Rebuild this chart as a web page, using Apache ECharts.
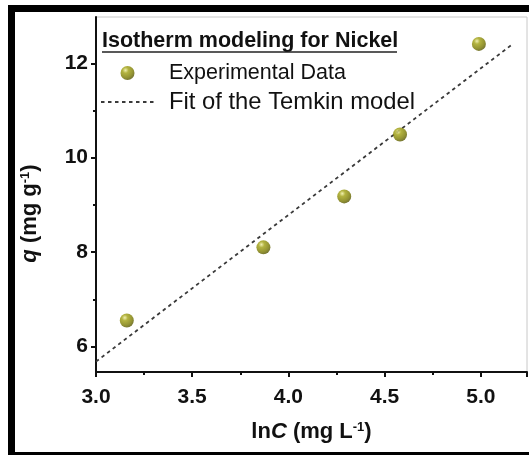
<!DOCTYPE html>
<html>
<head>
<meta charset="utf-8">
<script src="https://cdn.jsdelivr.net/npm/echarts@6/dist/echarts.min.js"></script>
<style>
html,body{margin:0;padding:0;background:#fff;}
#c{width:529px;height:455px;}
</style>
</head>
<body>
<div id="c"></div>
<script>
// Experimental data (lnC, q)
var lnC = [3.16, 3.87, 4.29, 4.58, 4.99];
var qExp = [6.55, 8.10, 9.18, 10.49, 12.41];
// Temkin fit line endpoints
var fitX = [3.0, 5.16];
var fitY = [5.68, 12.39];
// tick labels
var xTicks = [3.0, 3.5, 4.0, 4.5, 5.0];
var yTicks = [6, 8, 10, 12];
var yMinorTicks = [7, 9, 11];

var FF = '"Liberation Sans", Arial, Helvetica, sans-serif';
var chart = echarts.init(document.getElementById('c'), null, {renderer: 'canvas'});

var expData = lnC.map(function (x, i) { return [x, qExp[i]]; });
var fitData = fitX.map(function (x, i) { return [x, fitY[i]]; });

var ball = new echarts.graphic.RadialGradient(0.36, 0.3, 0.75, [
  {offset: 0, color: '#ecec9c'},
  {offset: 0.28, color: '#a0a010'},
  {offset: 0.7, color: '#7a7a00'},
  {offset: 1, color: '#505000'}
]);

var titleRich = {
  i: {fontSize: 22, fontWeight: 'bold', fontStyle: 'italic', fontFamily: FF, color: '#111'},
  n: {fontSize: 22, fontWeight: 'bold', fontFamily: FF, color: '#111'},
  s: {fontSize: 13, fontWeight: 'bold', fontFamily: FF, color: '#111', verticalAlign: 'top'}
};

var option = {
  animation: false,
  backgroundColor: '#fff',
  grid: {left: 96, top: 17, right: 2, bottom: 83, show: true, borderColor: '#c8c8c8', borderWidth: 1},
  xAxis: {
    type: 'value', min: 3.0, max: 5.24, interval: 0.5,
    axisLine: {show: true, lineStyle: {color: '#111', width: 2}},
    axisTick: {show: true, inside: false, length: 5, lineStyle: {color: '#111', width: 2}},
    minorTick: {show: true, splitNumber: 2, length: 3, lineStyle: {color: '#111', width: 2}},
    splitLine: {show: false},
    axisLabel: {
      margin: 15, fontSize: 21, fontWeight: 'bold', color: '#111', fontFamily: FF,
      customValues: xTicks,
      formatter: function (v) { return v.toFixed(1); }
    },
    name: '{n|ln}{i|C}{n| (mg L}{s|-1}{n|)}',
    nameLocation: 'middle', nameGap: 49,
    nameTextStyle: {fontSize: 22, fontWeight: 'bold', color: '#111', fontFamily: FF, rich: titleRich}
  },
  yAxis: [{
    type: 'value', min: 5.46, max: 12.98, position: 'left',
    axisLine: {show: true, lineStyle: {color: '#111', width: 2}},
    axisTick: {show: true, inside: false, length: 5, customValues: yTicks, lineStyle: {color: '#111', width: 2}},
    splitLine: {show: false},
    axisLabel: {
      margin: 8, fontSize: 21, fontWeight: 'bold', color: '#111', fontFamily: FF,
      customValues: yTicks
    },
    name: '{i|q}{n| (mg g}{s|-1}{n|)}',
    nameLocation: 'middle', nameGap: 55, nameRotate: 90,
    nameTextStyle: {
      fontSize: 22, fontWeight: 'bold', color: '#111', fontFamily: FF,
      padding: [0, 38, 0, 0],
      rich: titleRich
    }
  }, {
    type: 'value', min: 5.46, max: 12.98, position: 'left', offset: 0,
    axisLine: {show: false},
    axisTick: {show: true, inside: false, length: 3, customValues: yMinorTicks, lineStyle: {color: '#111', width: 2}},
    axisLabel: {show: false, customValues: yMinorTicks},
    splitLine: {show: false}
  }],
  legend: {
    orient: 'vertical', left: 100, top: 62, padding: 0,
    itemWidth: 53, itemHeight: 14, itemGap: 6,
    textStyle: {
      fontSize: 21, color: '#111', fontFamily: FF, lineHeight: 22, padding: [0, 0, 0, 10],
      rich: {
        a: {fontSize: 21.5, color: '#111', fontFamily: FF, lineHeight: 22},
        b: {fontSize: 23.8, color: '#111', fontFamily: FF, lineHeight: 22}
      }
    },
    formatter: function (name) {
      return name === 'Experimental Data' ? '{a|' + name + '}' : '{b|' + name + '}';
    },
    data: [
      {name: 'Experimental Data'},
      {name: 'Fit of the Temkin model', itemStyle: {opacity: 0, color: 'rgba(0,0,0,0)', borderWidth: 0}}
    ]
  },
  graphic: [
    {type: 'text', x: 102, y: 41, z: 10, style: {text: 'Isotherm modeling for Nickel', fontSize: 21.5, fontWeight: 'bold', fontFamily: FF, fill: '#111', align: 'left', verticalAlign: 'middle'}},
    {type: 'line', z: 10, shape: {x1: 102, y1: 52, x2: 397, y2: 52}, style: {stroke: '#222', lineWidth: 1.5}},
    {type: 'rect', z: 20, shape: {x: 8, y: 5, width: 521, height: 7}, style: {fill: '#000'}},
    {type: 'rect', z: 20, shape: {x: 8, y: 5, width: 7, height: 450}, style: {fill: '#000'}},
    {type: 'rect', z: 20, shape: {x: 8, y: 452, width: 521, height: 3}, style: {fill: '#000'}}
  ],
  series: [{
    name: 'Fit of the Temkin model', type: 'line', data: fitData,
    symbol: 'none', showSymbol: false,
    lineStyle: {color: '#3a3a3a', width: 1.8, type: [3.5, 3.5]},
    itemStyle: {color: 'rgba(0,0,0,0)'},
    z: 2
  }, {
    name: 'Experimental Data', type: 'scatter', data: expData,
    symbol: 'circle', symbolSize: 14,
    itemStyle: {color: ball},
    z: 3
  }]
};
chart.setOption(option);
</script>
</body>
</html>
